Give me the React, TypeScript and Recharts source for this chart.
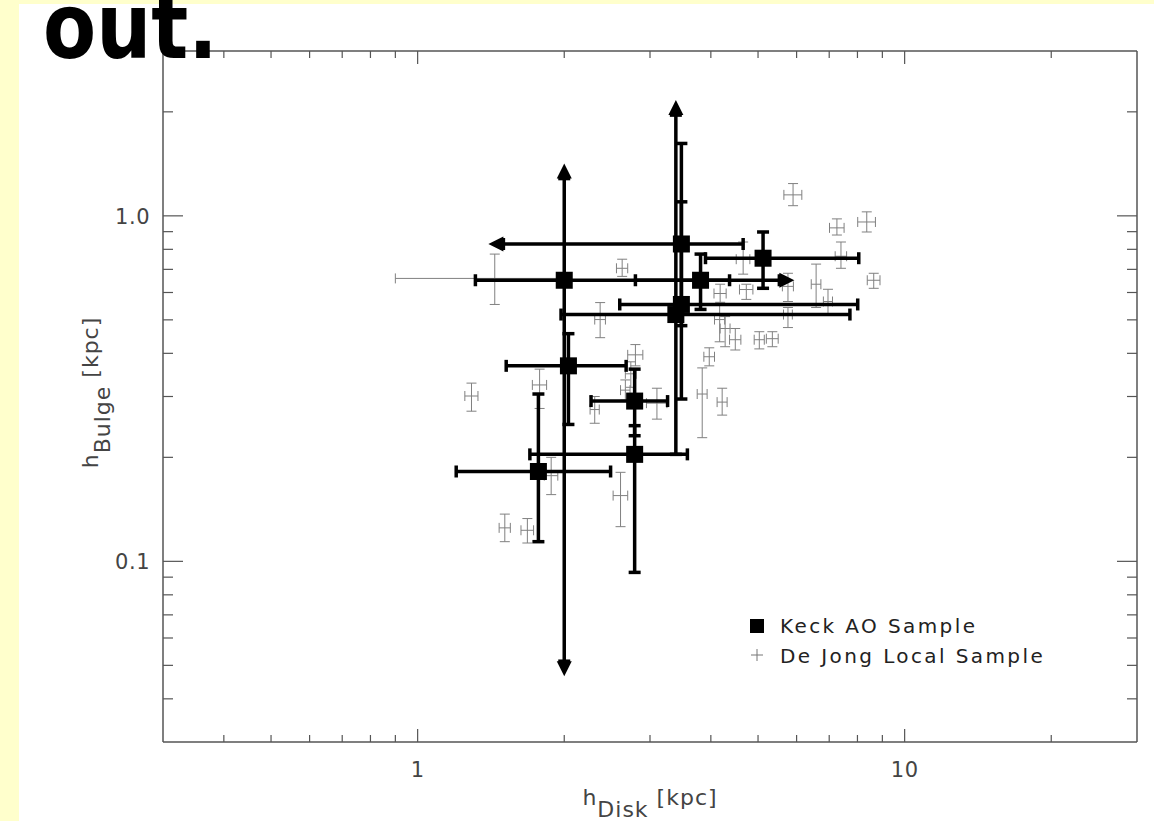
import React from 'react';
import { ScatterChart, Scatter, XAxis, YAxis, ErrorBar } from 'recharts';

// log axes, tick values
const X_TICKS = [0.4, 0.5, 0.6, 0.7, 0.8, 0.9, 1, 2, 3, 4, 5, 6, 7, 8, 9, 10, 20];
const Y_TICKS = [0.04, 0.05, 0.06, 0.07, 0.08, 0.09, 0.1, 0.2, 0.3, 0.4, 0.5, 0.6, 0.7, 0.8, 0.9, 1, 2];
const X_LABELS: Record<string, string> = { '1': '1', '10': '10' };
const Y_LABELS: Record<string, string> = { '0.1': '0.1', '1': '1.0' };

// Keck AO sample (kpc)
const keckDisk = [2.0, 3.81, 3.48, 3.48, 3.39, 5.12, 2.04, 2.79, 2.79, 1.77];
const keckBulge = [0.651, 0.651, 0.829, 0.554, 0.518, 0.754, 0.368, 0.291, 0.204, 0.182];
const keckDiskLo = [1.314, 2.8, 1.5, 2.6, 1.97, 3.9, 1.52, 2.27, 1.7, 1.2];
const keckDiskHi = [5.53, 4.37, 4.66, 8.01, 7.72, 8.05, 2.68, 3.26, 3.58, 2.49];
const keckBulgeLo = [0.0514, 0.536, 0.481, 0.295, 0.204, 0.617, 0.249, 0.231, 0.0929, 0.114];
const keckBulgeHi = [1.282, 0.775, 1.62, 1.098, 1.957, 0.898, 0.456, 0.36, 0.247, 0.305];

// limits drawn as arrow heads
const arrowDisk = [2.0, 2.0, 5.53, 1.5, 3.39];
const arrowBulge = [1.282, 0.0514, 0.651, 0.829, 1.957];
const arrowDir = ['up', 'down', 'right', 'left', 'up'];

// De Jong local sample
const djDisk = [1.44, 1.29, 1.78, 2.31, 1.88, 1.51, 1.68, 2.37, 2.63, 2.8, 2.74, 2.67, 3.1, 2.61, 4.18, 4.17, 4.28, 4.49, 3.97, 3.84, 4.22, 4.73, 5.03, 5.35, 4.66, 5.76, 5.76, 6.58, 6.96, 7.4, 7.26, 8.36, 8.64, 5.9];
const djBulge = [0.659, 0.301, 0.324, 0.275, 0.177, 0.125, 0.123, 0.501, 0.705, 0.396, 0.349, 0.313, 0.287, 0.155, 0.596, 0.501, 0.472, 0.438, 0.391, 0.305, 0.289, 0.612, 0.438, 0.441, 0.749, 0.625, 0.518, 0.634, 0.565, 0.764, 0.923, 0.96, 0.651, 1.15];
const djDiskErr = [0.54, 0.04, 0.06, 0.05, 0.06, 0.04, 0.05, 0.06, 0.07, 0.1, 0.07, 0.06, 0.15, 0.09, 0.12, 0.1, 0.1, 0.12, 0.1, 0.09, 0.1, 0.15, 0.12, 0.15, 0.15, 0.15, 0.12, 0.15, 0.15, 0.2, 0.25, 0.35, 0.26, 0.25];
const djBulgeLo = [0.554, 0.272, 0.277, 0.251, 0.156, 0.114, 0.113, 0.444, 0.668, 0.368, 0.319, 0.293, 0.258, 0.126, 0.562, 0.432, 0.418, 0.409, 0.368, 0.228, 0.265, 0.573, 0.412, 0.418, 0.678, 0.565, 0.475, 0.543, 0.518, 0.705, 0.88, 0.898, 0.617, 1.07];
const djBulgeHi = [0.775, 0.328, 0.36, 0.3, 0.2, 0.137, 0.133, 0.561, 0.749, 0.424, 0.378, 0.335, 0.317, 0.181, 0.634, 0.554, 0.511, 0.472, 0.415, 0.363, 0.317, 0.634, 0.462, 0.462, 0.84, 0.682, 0.543, 0.725, 0.613, 0.84, 0.98, 1.027, 0.682, 1.24];

const keckData = keckDisk.map((d, i) => ({
  disk: d,
  bulge: keckBulge[i],
  dErr: [d - keckDiskLo[i], keckDiskHi[i] - d],
  bErr: [keckBulge[i] - keckBulgeLo[i], keckBulgeHi[i] - keckBulge[i]],
}));

const arrowData = arrowDisk.map((d, i) => ({ disk: d, bulge: arrowBulge[i], dir: arrowDir[i] }));

const djData = djDisk.map((d, i) => ({
  disk: d,
  bulge: djBulge[i],
  dErr: djDiskErr[i],
  bErr: [djBulge[i] - djBulgeLo[i], djBulgeHi[i] - djBulge[i]],
}));

const FRAME = '#555';
const TEXT = '#444';
const FONT = 'DejaVu Sans, sans-serif';

const makeTick = (side: 'left' | 'right' | 'top' | 'bottom') => (props: any) => {
  const { x, y, payload } = props;
  const key = String(payload.value);
  const labels = side === 'left' || side === 'right' ? Y_LABELS : X_LABELS;
  const label = labels[key];
  const major = label !== undefined;
  const vLen = major ? 20 : 10;
  const hLen = major ? 13 : 7;
  let line;
  if (side === 'left') line = <line x1={x} x2={x + vLen} y1={y} y2={y} />;
  else if (side === 'right') line = <line x1={x} x2={x - vLen} y1={y} y2={y} />;
  else if (side === 'top') line = <line x1={x} x2={x} y1={y} y2={y + hLen} />;
  else line = <line x1={x} x2={x} y1={y} y2={y - hLen} />;
  return (
    <g>
      <g stroke={FRAME} strokeWidth={1.2}>{line}</g>
      {major && side === 'left' && (
        <text x={x - 13} y={y + 8} textAnchor="end" fontSize={21} letterSpacing={0.5} fill={TEXT} fontFamily={FONT}>
          {label}
        </text>
      )}
      {major && side === 'bottom' && (
        <text x={x} y={y + 35} textAnchor="middle" fontSize={21} letterSpacing={0.5} fill={TEXT} fontFamily={FONT}>
          {label}
        </text>
      )}
    </g>
  );
};

const KeckSquare = (props: any) => {
  const { cx, cy } = props;
  return <rect x={cx - 8.5} y={cy - 8.5} width={17} height={17} fill="#000" />;
};

const NoMarker = () => <g />;

const ArrowHead = (props: any) => {
  const { cx, cy, payload } = props;
  const s = 15;
  const h = 7.5;
  let pts = '';
  if (payload.dir === 'up') pts = `${cx - h},${cy} ${cx + h},${cy} ${cx},${cy - s}`;
  if (payload.dir === 'down') pts = `${cx - h},${cy} ${cx + h},${cy} ${cx},${cy + s}`;
  if (payload.dir === 'right') pts = `${cx},${cy - h} ${cx},${cy + h} ${cx + s},${cy}`;
  if (payload.dir === 'left') pts = `${cx},${cy - h} ${cx},${cy + h} ${cx - s},${cy}`;
  return <polygon points={pts} fill="#000" />;
};

const DiskLabel = (props: any) => {
  const { x, y, width } = props.viewBox;
  return (
    <text x={x + width / 2} y={y + 63} textAnchor="middle" fontSize={22} letterSpacing={1} fill={TEXT} fontFamily={FONT}>
      h<tspan dy={12}>Disk</tspan>
      <tspan dy={-12}> [kpc]</tspan>
    </text>
  );
};

const BulgeLabel = (props: any) => {
  const { y, height } = props.viewBox;
  const cx = 98;
  const cy = y + height / 2 - 4;
  return (
    <text x={cx} y={cy} transform={`rotate(-90 ${cx} ${cy})`} textAnchor="middle" fontSize={22} letterSpacing={1} fill={TEXT} fontFamily={FONT}>
      h<tspan dy={12}>Bulge</tspan>
      <tspan dy={-12}> [kpc]</tspan>
    </text>
  );
};

export default function App() {
  const axisLine = { stroke: FRAME, strokeWidth: 1.5 };
  return (
    <div style={{ position: 'absolute', left: 0, top: 0, width: 1154, height: 821, background: '#FFFFCC' }}>
      <div style={{ position: 'absolute', left: 19, top: 4, width: 1135, height: 817, background: '#fff' }} />
      <div style={{ position: 'absolute', left: 0, top: 0 }}>
        <ScatterChart width={1154} height={821} margin={{ top: 49, right: 15, bottom: 9, left: 63 }}>
          <XAxis
            xAxisId="bottom"
            dataKey="disk"
            type="number"
            scale="log"
            domain={[0.3, 30]}
            allowDataOverflow
            ticks={X_TICKS}
            interval={0}
            height={70}
            tickSize={0}
            tickMargin={0}
            tickLine={false}
            axisLine={axisLine}
            tick={makeTick('bottom')}
            label={{ content: (p: any) => <DiskLabel {...p} /> }}
          />
          <XAxis
            xAxisId="top"
            orientation="top"
            dataKey="disk"
            type="number"
            scale="log"
            domain={[0.3, 30]}
            allowDataOverflow
            ticks={X_TICKS}
            interval={0}
            height={2}
            tickSize={0}
            tickMargin={0}
            tickLine={false}
            axisLine={axisLine}
            tick={makeTick('top')}
          />
          <YAxis
            yAxisId="left"
            dataKey="bulge"
            type="number"
            scale="log"
            domain={[0.03, 3]}
            allowDataOverflow
            ticks={Y_TICKS}
            interval={0}
            width={100}
            tickSize={0}
            tickMargin={0}
            tickLine={false}
            axisLine={axisLine}
            tick={makeTick('left')}
            label={{ content: (p: any) => <BulgeLabel {...p} /> }}
          />
          <YAxis
            yAxisId="right"
            orientation="right"
            dataKey="bulge"
            type="number"
            scale="log"
            domain={[0.03, 3]}
            allowDataOverflow
            ticks={Y_TICKS}
            interval={0}
            width={2}
            tickSize={0}
            tickMargin={0}
            tickLine={false}
            axisLine={axisLine}
            tick={makeTick('right')}
          />
          <Scatter data={djData} xAxisId="bottom" yAxisId="left" shape={NoMarker} isAnimationActive={false}>
            <ErrorBar dataKey="dErr" direction="x" stroke="#808080" strokeWidth={1} width={5} isAnimationActive={false} />
            <ErrorBar dataKey="bErr" direction="y" stroke="#808080" strokeWidth={1} width={5} isAnimationActive={false} />
          </Scatter>
          <Scatter data={keckData} xAxisId="bottom" yAxisId="left" shape={KeckSquare} isAnimationActive={false}>
            <ErrorBar dataKey="dErr" direction="x" stroke="#000" strokeWidth={3.5} width={6} isAnimationActive={false} />
            <ErrorBar dataKey="bErr" direction="y" stroke="#000" strokeWidth={3.5} width={6} isAnimationActive={false} />
          </Scatter>
          <Scatter data={arrowData} xAxisId="bottom" yAxisId="left" shape={ArrowHead} isAnimationActive={false} />
        </ScatterChart>
      </div>
      <svg width={1154} height={821} style={{ position: 'absolute', left: 0, top: 0, pointerEvents: 'none' }}>
        <text transform="translate(43,58) scale(0.86,1)" fontSize={90} fontWeight="bold" fontFamily={FONT} fill="#000">
          out.
        </text>
        <rect x={750} y={619} width={14} height={14} fill="#000" />
        <text x={780} y={633} fontSize={20} letterSpacing={2.4} fill="#222" fontFamily={FONT}>
          Keck AO Sample
        </text>
        <g stroke="#777" strokeWidth={1}>
          <line x1={751} x2={763} y1={655} y2={655} />
          <line x1={757} x2={757} y1={649} y2={661} />
        </g>
        <text x={780} y={663} fontSize={20} letterSpacing={2.4} fill="#222" fontFamily={FONT}>
          De Jong Local Sample
        </text>
      </svg>
    </div>
  );
}
